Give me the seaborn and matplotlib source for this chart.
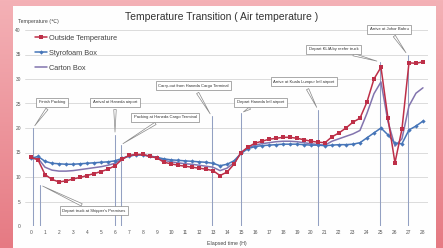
import numpy as np
import pandas as pd
import matplotlib
matplotlib.use("Agg")
import matplotlib.pyplot as plt
import seaborn as sns

# ---------------- data ----------------
hours = np.arange(0, 28.5, 0.5)

outside = [14.0, 13.5, 10.5, 9.5, 9.0, 9.2, 9.6, 9.9, 10.3, 10.7, 11.1, 11.6, 12.3, 13.6,
           14.4, 14.6, 14.6, 14.2, 13.9, 13.0, 12.7, 12.4, 12.2, 12.0, 11.8, 11.6, 11.3, 10.3,
           11.0, 12.6, 15.0, 16.1, 16.9, 17.3, 17.7, 17.9, 18.1, 18.1, 17.9, 17.6, 17.3, 17.1,
           17.0, 18.2, 19.0, 20.0, 21.2, 22.0, 25.3, 30.0, 32.4, 22.0, 12.9, 19.8, 33.3, 33.2, 33.5]

styrofoam = [13.8, 14.2, 13.2, 12.8, 12.7, 12.6, 12.6, 12.7, 12.8, 12.9, 13.0, 13.1, 13.3, 13.8,
             14.3, 14.5, 14.5, 14.3, 14.0, 13.7, 13.5, 13.4, 13.3, 13.2, 13.1, 13.0, 12.8, 12.3,
             12.6, 13.3, 14.8, 15.8, 16.2, 16.4, 16.5, 16.6, 16.7, 16.7, 16.7, 16.6, 16.5, 16.5,
             16.4, 16.5, 16.6, 16.6, 16.7, 17.0, 18.0, 19.0, 20.0, 18.6, 16.9, 16.8, 19.6, 20.4, 21.4]

carton = [13.8, 13.8, 12.0, 11.4, 11.2, 11.2, 11.3, 11.5, 11.7, 11.9, 12.1, 12.4, 12.8, 13.7,
          14.3, 14.5, 14.5, 14.2, 13.9, 13.4, 13.1, 12.9, 12.7, 12.6, 12.4, 12.2, 12.0, 11.3,
          11.8, 12.9, 14.9, 15.9, 16.5, 16.8, 17.0, 17.2, 17.3, 17.3, 17.2, 17.0, 16.8, 16.6,
          16.5, 17.3, 17.8, 18.3, 18.8, 19.5, 23.0, 27.0, 29.4, 21.3, 16.3, 17.8, 24.5, 27.1, 28.2]

series_names = ["Outside Temperature", "Styrofoam Box", "Carton Box"]

# events: label, time of event, pointer temperature, box position (hour, temp)
event_labels = ["Finish Packing", "Depart truck at Shipper's Premises", "Arrival at Haneda airport",
                "Packing at Haneda Cargo Terminal", "Carry-out from Haneda Cargo Terminal",
                "Depart Haneda Intl airport", "Arrive at Kuala Lumpur Intl airport",
                "Depart KLIA by reefer truck", "Arrive at Johor Bahru"]
event_times = [0.15, 0.65, 6.0, 6.4, 12.9, 15.0, 20.5, 24.9, 26.9]
event_tip_temps = [20.0, 8.4, 18.6, 16.5, 22.4, 23.0, 23.7, 33.5, 34.9]
event_box_hours = [1.5, 4.5, 6.0, 9.6, 11.6, 16.4, 19.5, 21.6, 25.6]
event_box_temps = [25.3, 3.1, 25.3, 22.2, 28.6, 25.3, 29.4, 36.1, 40.2]

x_ticks = list(range(0, 29))
y_ticks = list(range(0, 41, 5))

# ---------------- figure ----------------
sns.set_theme(style="white")
plt.rcParams["font.family"] = ["Liberation Sans", "DejaVu Sans"]

W, H = 443, 248
fig = plt.figure(figsize=(W / 100, H / 100), dpi=100)

# pink gradient background
bg = fig.add_axes([0, 0, 1, 1], zorder=-10)
grad = np.linspace(0, 1, 100).reshape(-1, 1)
c_top = np.array([0xf4, 0xb1, 0xb6]) / 255
c_bot = np.array([0xe6, 0x7a, 0x83]) / 255
img = c_top[None, None, :] * (1 - grad[:, :, None]) + c_bot[None, None, :] * grad[:, :, None]
bg.imshow(img, aspect="auto", extent=[0, 1, 0, 1])
bg.set_axis_off()
# white panel
bg.add_patch(plt.Rectangle((13 / W, 0), (436 - 13) / W, (248 - 6) / H,
                           facecolor="#fefefe", edgecolor="none", transform=bg.transAxes))
bg.set_xlim(0, 1)
bg.set_ylim(0, 1)

ax = fig.add_axes([25 / W, (H - 226) / H, (428 - 25) / W, (226 - 30) / H])
ax.set_facecolor("none")

df = pd.DataFrame({"hour": np.tile(hours, 3),
                   "temp": outside + styrofoam + carton,
                   "series": np.repeat(series_names, len(hours))})

colors = {"Outside Temperature": "#bd2f48", "Styrofoam Box": "#4675b8", "Carton Box": "#8274ae"}

# vertical event lines
for t, tip in zip(event_times, event_tip_temps):
    ax.plot([t, t], [0, tip], color="#93a0c2", lw=0.75, zorder=1)

sns.lineplot(data=df[df.series == "Carton Box"], x="hour", y="temp", ax=ax,
             color=colors["Carton Box"], lw=1.1, label="Carton Box", zorder=3)
sns.lineplot(data=df[df.series == "Styrofoam Box"], x="hour", y="temp", ax=ax,
             color=colors["Styrofoam Box"], lw=1.1, marker="D", markersize=2.2,
             markeredgewidth=0, label="Styrofoam Box", zorder=4)
sns.lineplot(data=df[df.series == "Outside Temperature"], x="hour", y="temp", ax=ax,
             color=colors["Outside Temperature"], lw=1.1, marker="s", markersize=3.3,
             markeredgewidth=0, label="Outside Temperature", zorder=5)

ax.set_xlim(-0.43, 28.36)
ax.set_ylim(0, 40)
ax.set_xticks(x_ticks)
ax.set_yticks(y_ticks)
ax.tick_params(axis="both", length=0, labelsize=3.5, labelcolor="#555555", pad=3)
ax.grid(axis="y", color="#d6d6d6", lw=0.6)
ax.grid(axis="x", visible=False)
for s in ax.spines.values():
    s.set_visible(False)
ax.set_xlabel("Elapsed time (H)", fontsize=3.8, color="#444444", labelpad=4)
ax.set_ylabel("")

# legend
h, l = ax.get_legend_handles_labels()
order = [l.index(n) for n in series_names]
ax.legend([h[i] for i in order], [l[i] for i in order], loc="upper left",
          bbox_to_anchor=(0.025, 0.975), frameon=False, fontsize=5.3,
          labelspacing=1.05, handlelength=1.6, handletextpad=0.3,
          borderpad=0, borderaxespad=0, labelcolor="#444444")

# callouts
for lab, t, tip, bh, bt in zip(event_labels, event_times, event_tip_temps,
                               event_box_hours, event_box_temps):
    ax.annotate(lab, xy=(t, tip), xytext=(bh, bt), fontsize=3.0, color="#333333",
                ha="center", va="center", annotation_clip=False,
                bbox=dict(boxstyle="square,pad=0.6", fc="white", ec="#888888", lw=0.5),
                arrowprops=dict(arrowstyle="wedge,tail_width=0.6", fc="white",
                                ec="#888888", lw=0.5), zorder=6)

fig.text(222 / W, 1 - 17 / H, "Temperature Transition ( Air temperature )",
         ha="center", va="center", fontsize=7.5, color="#333333")
fig.text(18 / W, 1 - 22 / H, "Temperature (℃)", ha="left", va="center",
         fontsize=3.8, color="#444444")

fig.savefig("out.png", dpi=100)
